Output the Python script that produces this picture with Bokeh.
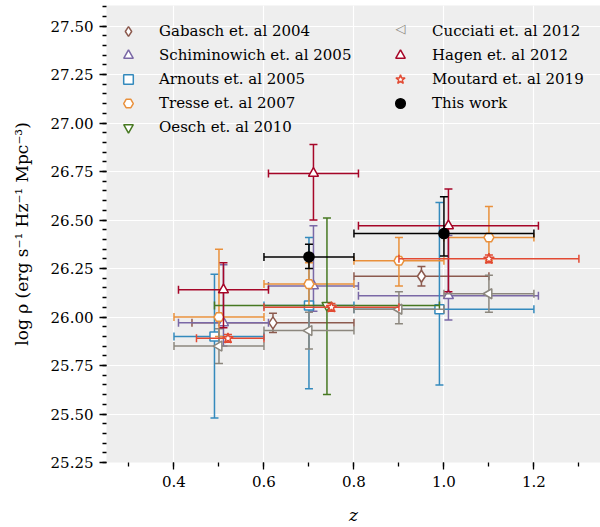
import numpy as np
from bokeh.plotting import figure
from bokeh.models import (Range1d, Legend, LegendItem, SingleIntervalTicker,
                          PrintfTickFormatter, Label)
from bokeh.embed import file_html
from bokeh.resources import INLINE

# ---------------- data ----------------
gabasch_z = [0.62, 0.95]
gabasch_rho = [25.97, 26.21]
gabasch_zlo = [0.44, 0.80]
gabasch_zhi = [0.80, 1.10]
gabasch_rlo = [25.92, 26.16]
gabasch_rhi = [26.02, 26.26]

schim_z = [0.51, 0.71, 1.01]
schim_rho = [25.97, 26.16, 26.11]
schim_zlo = [0.41, 0.61, 0.81]
schim_zhi = [0.61, 0.81, 1.21]
schim_rlo = [25.85, 26.03, 25.985]
schim_rhi = [26.27, 26.47, 26.42]

arnouts_z = [0.49, 0.70, 0.99]
arnouts_rho = [25.90, 26.06, 26.04]
arnouts_zlo = [0.40, 0.60, 0.80]
arnouts_zhi = [0.60, 0.80, 1.20]
arnouts_rlo = [25.48, 25.63, 25.65]
arnouts_rhi = [26.22, 26.41, 26.59]

tresse_z = [0.50, 0.70, 0.90, 1.10]
tresse_rho = [26.00, 26.17, 26.29, 26.41]
tresse_zlo = [0.40, 0.60, 0.80, 1.00]
tresse_zhi = [0.60, 0.80, 1.00, 1.20]
tresse_rlo = [25.90, 26.06, 26.16, 26.29]
tresse_rhi = [26.35, 26.28, 26.41, 26.57]

oesch_z = [0.74]
oesch_rho = [26.06]
oesch_zlo = [0.49]
oesch_zhi = [0.99]
oesch_rlo = [25.60]
oesch_rhi = [26.51]

cucciati_z = [0.50, 0.70, 0.90, 1.10]
cucciati_rho = [25.85, 25.93, 26.04, 26.12]
cucciati_zlo = [0.40, 0.60, 0.80, 1.00]
cucciati_zhi = [0.60, 0.80, 1.00, 1.20]
cucciati_rlo = [25.76, 25.835, 25.965, 26.025]
cucciati_rhi = [25.94, 26.025, 26.13, 26.215]

hagen_z = [0.51, 0.71, 1.01]
hagen_rho = [26.14, 26.74, 26.47]
hagen_zlo = [0.41, 0.61, 0.81]
hagen_zhi = [0.61, 0.81, 1.21]
hagen_rlo = [25.945, 26.50, 26.13]
hagen_rhi = [26.28, 26.89, 26.66]

moutard_z = [0.52, 0.75, 1.10]
moutard_rho = [25.89, 26.05, 26.30]
moutard_zlo = [0.45, 0.60, 0.90]
moutard_zhi = [0.60, 0.90, 1.30]
moutard_rlo = [25.87, 26.03, 26.28]
moutard_rhi = [25.91, 26.07, 26.32]

thiswork_z = [0.70, 1.00]
thiswork_rho = [26.31, 26.43]
thiswork_zlo = [0.60, 0.80]
thiswork_zhi = [0.80, 1.20]
thiswork_rlo = [26.25, 26.315]
thiswork_rhi = [26.375, 26.62]

labels = ["Gabasch et. al 2004", "Schiminowich et. al 2005", "Arnouts et. al 2005",
          "Tresse et. al 2007", "Oesch et. al 2010", "Cucciati et. al 2012",
          "Hagen et. al 2012", "Moutard et. al 2019", "This work"]

CUCCIATI_COLOR = "#8c877e"

# ---------------- figure ----------------
FONT = "DejaVu Serif"
p = figure(width=600, height=527, x_range=Range1d(0.25, 1.348),
           y_range=Range1d(25.25, 27.606), output_backend="svg",
           toolbar_location=None, min_border_left=106, min_border_right=0,
           min_border_top=5, min_border_bottom=64)
p.background_fill_color = "#eeeeee"
p.border_fill_color = "white"
p.outline_line_color = None

xt = SingleIntervalTicker(interval=0.2, num_minor_ticks=2)
yt = SingleIntervalTicker(interval=0.25, num_minor_ticks=5)
p.xaxis.ticker = xt
p.yaxis.ticker = yt
p.xgrid.ticker = xt
p.ygrid.ticker = yt
p.xaxis.formatter = PrintfTickFormatter(format="%.1f")
p.yaxis.formatter = PrintfTickFormatter(format="%.2f")
for g in (p.xgrid, p.ygrid):
    g.grid_line_color = "white"
    g.grid_line_width = 1.2

for ax in (p.xaxis, p.yaxis):
    ax.axis_line_color = None
    ax.major_tick_line_color = "black"
    ax.minor_tick_line_color = "black"
    ax.major_tick_line_width = 1.3
    ax.minor_tick_line_width = 1.3
    ax.major_tick_out = 7
    ax.major_tick_in = 0
    ax.minor_tick_out = 4
    ax.minor_tick_in = 0
    ax.major_label_text_font = FONT
    ax.major_label_text_font_size = "15px"
    ax.major_label_text_color = "black"
    ax.axis_label_text_font = FONT
    ax.axis_label_text_color = "black"

p.xaxis.major_label_standoff = 6
p.yaxis.major_label_standoff = 6
p.xaxis.axis_label = "z"
p.xaxis.axis_label_text_font_style = "italic"
p.xaxis.axis_label_text_font_size = "17px"
p.xaxis.axis_label_standoff = 15
p.yaxis.axis_label = "log \u03c1 (erg s\u207b\u00b9 Hz\u207b\u00b9 Mpc\u207b\u00b3)"
p.yaxis.axis_label_text_font_style = "normal"
p.yaxis.axis_label_text_font_size = "17px"
p.yaxis.axis_label_standoff = 16


def draw(z, rho, zlo, zhi, rlo, rhi, color, marker, size, angle=0.0, fill="white"):
    lw = 1.5
    p.segment(x0=z, y0=rlo, x1=z, y1=rhi, line_color=color, line_width=lw)
    p.segment(x0=zlo, y0=rho, x1=zhi, y1=rho, line_color=color, line_width=lw)
    p.scatter(x=list(z) + list(z), y=list(rlo) + list(rhi), marker="dash",
              size=8, line_color=color, line_width=lw)
    p.scatter(x=list(zlo) + list(zhi), y=list(rho) + list(rho), marker="dash",
              angle=np.pi / 2, size=8, line_color=color, line_width=lw)
    return p.scatter(x=z, y=rho, marker=marker, size=size, angle=angle,
                     fill_color=fill, line_color=color, line_width=lw)


rs = []
rs.append(draw(gabasch_z, gabasch_rho, gabasch_zlo, gabasch_zhi, gabasch_rlo, gabasch_rhi,
               "#8c5a4e", "diamond", 12))
rs.append(draw(schim_z, schim_rho, schim_zlo, schim_zhi, schim_rlo, schim_rhi,
               "#7a68a6", "triangle", 10))
rs.append(draw(arnouts_z, arnouts_rho, arnouts_zlo, arnouts_zhi, arnouts_rlo, arnouts_rhi,
               "#348abd", "square", 9))
rs.append(draw(tresse_z, tresse_rho, tresse_zlo, tresse_zhi, tresse_rlo, tresse_rhi,
               "#e9903b", "hex", 10))
rs.append(draw(oesch_z, oesch_rho, oesch_zlo, oesch_zhi, oesch_rlo, oesch_rhi,
               "#467821", "inverted_triangle", 10))
rs.append(draw(cucciati_z, cucciati_rho, cucciati_zlo, cucciati_zhi, cucciati_rlo, cucciati_rhi,
               CUCCIATI_COLOR, "triangle", 10, angle=np.pi / 2))
rs.append(draw(hagen_z, hagen_rho, hagen_zlo, hagen_zhi, hagen_rlo, hagen_rhi,
               "#a60628", "triangle", 10))
rs.append(draw(moutard_z, moutard_rho, moutard_zlo, moutard_zhi, moutard_rlo, moutard_rhi,
               "#e24a33", "star", 11))
rs.append(draw(thiswork_z, thiswork_rho, thiswork_zlo, thiswork_zhi, thiswork_rlo, thiswork_rhi,
               "black", "circle", 10, fill="black"))

# Bokeh legends never rotate markers: use an invisible stand-in for the
# left-pointing triangle and draw that legend symbol as a glyph character.
blank = p.scatter(x=[], y=[], marker="triangle", fill_alpha=0, line_alpha=0)
legend_renderers = list(rs)
legend_renderers[5] = blank

items = [LegendItem(label=l, renderers=[r]) for l, r in zip(labels, legend_renderers)]


def make_legend(its, loc, standoff):
    return Legend(items=its, location=loc, border_line_color=None,
                  background_fill_alpha=0, padding=0, margin=0,
                  glyph_width=24, glyph_height=24, label_height=24, spacing=0,
                  label_standoff=standoff, label_text_font=FONT,
                  label_text_font_size="15px", label_text_color="black")


p.add_layout(make_legend(items[:5], (10, 323), 19))
p.add_layout(make_legend(items[5:], (282, 347), 20))
p.add_layout(Label(x=294, y=434, x_units="screen", y_units="screen", text="\u25c1",
                   text_font="DejaVu Sans", text_font_size="13px",
                   text_color=CUCCIATI_COLOR, text_align="center",
                   text_baseline="middle"))

open("out.html", "w").write(file_html(p, INLINE))
